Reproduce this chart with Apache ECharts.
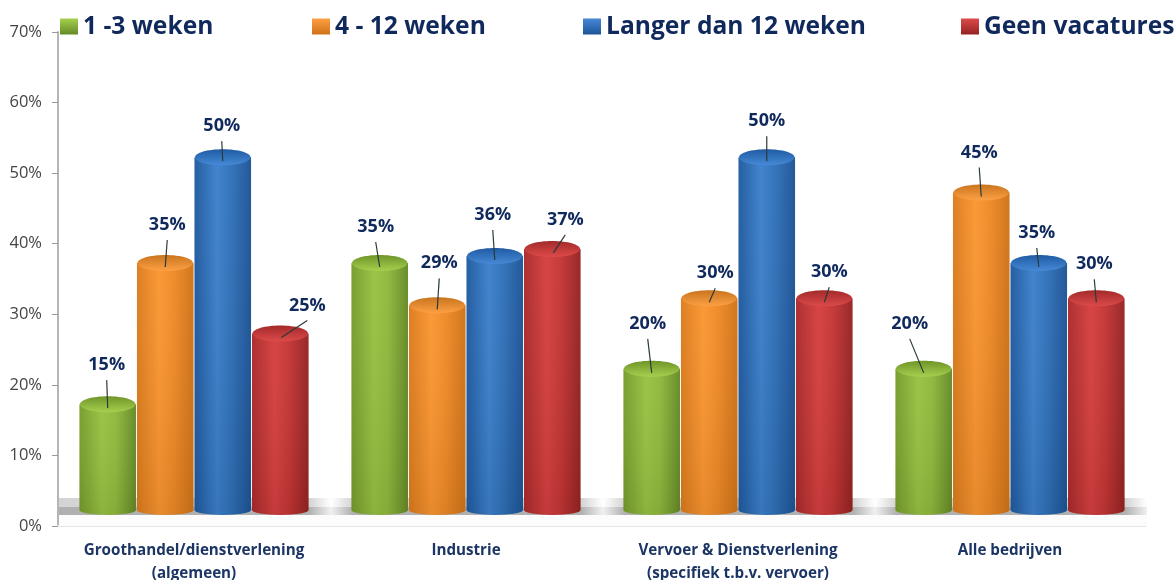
<!DOCTYPE html>
<html>
<head>
<meta charset="utf-8">
<script src="https://cdn.jsdelivr.net/npm/echarts@6/dist/echarts.min.js"></script>
<style>
html, body { margin: 0; padding: 0; background: #fff; }
#main { width: 1176px; height: 580px; }
</style>
</head>
<body>
<div id="main"></div>
<script>
const categories = [
    'Groothandel/dienstverlening\n(algemeen)',
    'Industrie',
    'Vervoer & Dienstverlening\n(specifiek t.b.v. vervoer)',
    'Alle bedrijven'
]
const seriesNames = ['1 -3 weken', '4 - 12 weken', 'Langer dan 12 weken', 'Geen vacatures']
const kort = [15, 35, 20, 20]
const middel = [35, 29, 30, 45]
const lang = [50, 36, 50, 35]
const geen = [25, 37, 30, 30]
const seriesValues = [kort, middel, lang, geen]
const tickValues = { min: 0, max: 70, interval: 10 }

// kleuren per serie: rand, licht, midden, rechts
const palette = [
    ['#769c2c', '#97c242', '#8fb83c', '#648a26'],
    ['#dc7b1c', '#fb9631', '#ef8a26', '#d07218'],
    ['#1f5a9f', '#3c80cc', '#2f70b8', '#1d5496'],
    ['#aa2a2a', '#d63f3f', '#c43535', '#962222']
]
const tops = [
    ['#6f9429', '#a6d04e'],
    ['#c9751f', '#fda044'],
    ['#1f5ba3', '#4689d6'],
    ['#a32a2a', '#dd4a4a']
]
// plek van het label t.o.v. de bovenkant van de cilinder [dx, dy]
const labelOffsets = [
    [[-1, -39], [-4, -36], [-4, -45], [-14, -45]],
    [[2, -38], [2, -42], [6, -25], [-2, -40]],
    [[-1, -31], [-2, -41], [0, -36], [-2, -30]],
    [[27, -28], [13, -29], [5, -26], [-2, -34]]
]
const legendLeft = [60, 312, 583, 961]
const depth = 16
const textBlue = '#10295c'

function hGrad(c) {
    return new echarts.graphic.LinearGradient(0, 0, 1, 0, [
        { offset: 0, color: c[0] },
        { offset: 0.4, color: c[1] },
        { offset: 0.65, color: c[2] },
        { offset: 1, color: c[3] }
    ])
}

function cylinder(si) {
    return function (params, api) {
        const cat = api.value(0)
        const val = api.value(1)
        const band = api.size([1, 0])[0]
        const w = band * 0.208
        const p = api.coord([cat, val])
        const base = api.coord([cat, 0])
        const cx = p[0] + (si - 1.5) * band * 0.2115
        const topY = p[1] - depth
        const botY = base[1] - depth
        const rx = w / 2
        const ry = 8
        const x0 = cx - rx
        const d = 'M' + x0 + ' ' + topY + 'L' + (x0 + w) + ' ' + topY + 'L' + (x0 + w) + ' ' + botY +
            'A' + rx + ' ' + 5 + ' 0 0 1 ' + x0 + ' ' + botY + 'Z'
        const box = { x: x0, y: topY, width: w, height: botY + 5 - topY, layout: 'cover' }
        const off = labelOffsets[si][cat]
        const lx = cx + off[0]
        const ly = topY + off[1]
        return {
            type: 'group',
            children: [
                { type: 'path', shape: Object.assign({ pathData: d }, box), style: { fill: hGrad(palette[si]) } },
                {
                    type: 'path', shape: Object.assign({ pathData: d }, box),
                    style: {
                        fill: new echarts.graphic.LinearGradient(0, 0, 0, 1, [
                            { offset: 0, color: 'rgba(255,255,255,0.03)' },
                            { offset: 1, color: 'rgba(0,0,0,0.08)' }
                        ])
                    }
                },
                {
                    type: 'ellipse',
                    shape: { cx: cx, cy: topY, rx: rx - 0.5, ry: ry },
                    style: {
                        fill: new echarts.graphic.LinearGradient(0, 0, 0, 1, [
                            { offset: 0, color: tops[si][0] },
                            { offset: 1, color: tops[si][1] }
                        ])
                    }
                },
                {
                    type: 'line',
                    shape: { x1: lx, y1: ly + 15, x2: cx + (off[0] > 10 ? 1 : 0), y2: topY + 4 },
                    style: { stroke: '#2b3a3a', lineWidth: 1.2 }
                },
                {
                    type: 'text',
                    x: lx,
                    y: ly,
                    style: {
                        text: api.value(1) + '%',
                        fill: textBlue,
                        font: 'bold 18px "Open Sans"',
                        align: 'center',
                        verticalAlign: 'middle'
                    }
                }
            ]
        }
    }
}

function floorBand(params, api) {
    const cat = api.value(0)
    const band = api.size([1, 0])[0]
    const p = api.coord([cat, 0])
    const x0 = p[0] - band / 2 + 1
    const fade = function (a, b) {
        return new echarts.graphic.LinearGradient(0, 0, 1, 0, [
            { offset: 0, color: cat === 0 ? b : a },
            { offset: 0.08, color: b },
            { offset: 0.92, color: b },
            { offset: 1, color: a }
        ])
    }
    return {
        type: 'group',
        children: [
            { type: 'rect', shape: { x: x0, y: p[1] - 28, width: band, height: 9 }, style: { fill: fade('#ffffff', '#d4d4d4') } },
            { type: 'rect', shape: { x: x0, y: p[1] - 19, width: band, height: 8 }, style: { fill: fade('#f0f0f0', '#b0b0b0') } },
            { type: 'rect', shape: { x: x0, y: p[1] - 11, width: band, height: 11 }, style: { fill: '#fcfcfc' } }
        ]
    }
}

const series = [{
    type: 'custom',
    name: 'vloer',
    silent: true,
    renderItem: floorBand,
    encode: { x: 0, y: 1 },
    data: categories.map((c, i) => [i, 0]),
    z: 1
}]
seriesNames.forEach((name, si) => {
    series.push({
        type: 'custom',
        name: name,
        renderItem: cylinder(si),
        encode: { x: 0, y: 1 },
        data: seriesValues[si].map((v, i) => [i, v]),
        itemStyle: { color: palette[si][1] },
        z: 2 + si
    })
})

const legends = seriesNames.map((name, si) => ({
    left: legendLeft[si],
    top: 14,
    padding: 0,
    itemWidth: 18,
    itemHeight: 16,
    itemGap: 8,
    data: [{
        name: name,
        icon: 'rect',
        itemStyle: {
            color: new echarts.graphic.LinearGradient(0, 0, 0, 1, [
                { offset: 0, color: tops[si][1] },
                { offset: 1, color: palette[si][3] }
            ])
        }
    }],
    textStyle: {
        color: textBlue,
        fontFamily: 'Open Sans',
        fontWeight: 'bold',
        fontSize: 24.6
    }
}))

const option = {
    animation: false,
    backgroundColor: '#fff',
    legend: legends,
    grid: { left: 58, right: 30, top: 32, bottom: 54, outerBoundsMode: 'none' },
    xAxis: {
        type: 'category',
        data: categories,
        axisTick: { show: false },
        axisLine: { lineStyle: { color: '#e6e6e6', width: 2 } },
        axisLabel: {
            interval: 0,
            margin: 13,
            color: '#1c3564',
            fontFamily: 'Open Sans',
            fontWeight: 'bold',
            fontSize: 15.2,
            lineHeight: 23
        }
    },
    yAxis: {
        type: 'value',
        min: tickValues.min,
        max: tickValues.max,
        interval: tickValues.interval,
        splitLine: { show: false },
        axisLine: { show: true, lineStyle: { color: '#b5b5b5', width: 2 } },
        axisTick: { show: true, length: 6, lineStyle: { color: '#9a9a9a' } },
        axisLabel: {
            formatter: '{value}%',
            margin: 16,
            color: '#444',
            fontFamily: 'Open Sans',
            fontSize: 16.5
        }
    },
    series: series
}

const myChart = echarts.init(document.getElementById('main'))
myChart.setOption(option)
</script>
</body>
</html>
